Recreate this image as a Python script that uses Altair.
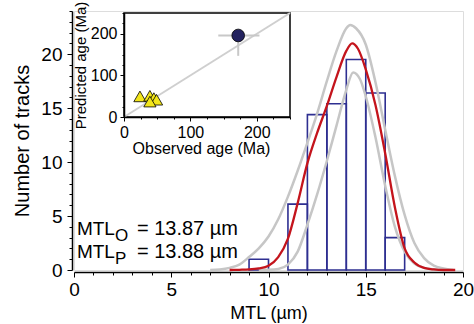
import altair as alt
import pandas as pd

# ---------------- data ----------------
bin_start = [9, 10, 11, 12, 13, 14, 15, 16]
bin_end = [10, 11, 12, 13, 14, 15, 16, 17]
counts = [1.0, 0.0, 6.1, 14.4, 15.4, 19.5, 16.4, 3.0]

red_x = [8.0, 8.5, 9.0, 9.5, 10.0, 10.5, 11.0, 11.5, 12.0, 12.5, 13.0, 13.5, 14.0, 14.3, 14.6,
         15.0, 15.5, 16.0, 16.5, 17.0, 17.5, 18.0, 18.5, 19.0, 19.6]
red_y = [0.0, 0.02, 0.05, 0.15, 0.4, 1.2, 2.9, 6.2, 9.9, 12.7, 15.2, 17.9, 20.3, 21.0, 20.5,
         18.6, 15.3, 10.8, 5.8, 2.0, 0.7, 0.2, 0.05, 0.0, 0.0]

up_x = [7.0, 7.5, 8.0, 8.5, 9.0, 9.5, 10.0, 10.5, 11.0, 11.5, 12.0, 12.5, 13.0, 13.5, 14.0,
        14.2, 14.5, 15.0, 15.5, 16.0, 16.5, 17.0, 17.5, 18.0, 18.5, 19.0, 19.5]
up_y = [0.0, 0.05, 0.2, 0.5, 1.2, 2.0, 3.1, 4.7, 6.8, 9.2, 11.8, 14.5, 17.5, 20.3, 22.4,
        22.7, 22.4, 20.9, 17.4, 13.0, 8.7, 5.1, 2.5, 1.1, 0.4, 0.15, 0.0]

lo_x = [9.5, 10.0, 10.5, 11.0, 11.5, 12.0, 12.5, 13.0, 13.5, 14.0, 14.35, 14.7, 15.0, 15.5,
        16.0, 16.5, 17.0, 17.5, 18.0, 18.5, 19.0]
lo_y = [0.0, 0.02, 0.1, 0.5, 1.7, 4.2, 7.0, 10.1, 13.4, 16.7, 18.3, 17.7, 16.1, 12.3,
        7.8, 4.0, 1.7, 0.6, 0.2, 0.05, 0.0]

mtl_label = ["MTL", "MTL"]
mtl_sub = ["O", "P"]
mtl_value = ["= 13.87 µm", "= 13.88 µm"]
mtl_x = [0.15, 0.15]
mtl_y = [3.24, 1.08]

# inset
obs_age = [172]
pred_age = [196]
obs_lo, obs_hi = [142], [204]
pred_lo, pred_hi = [147], [200]
tri_obs = [24, 39, 45, 49, 39]
tri_pred = [49.5, 51, 45.5, 41.5, 37]
line_obs = [0, 250]
line_pred = [0, 250]

# ---------------- tables ----------------
hist_df = pd.DataFrame({"x0": bin_start, "x1": bin_end, "n": counts})
curves_df = pd.concat([
    pd.DataFrame({"mtl": up_x, "y": up_y, "c": "upper"}),
    pd.DataFrame({"mtl": lo_x, "y": lo_y, "c": "lower"}),
])
red_df = pd.DataFrame({"mtl": red_x, "y": red_y})
text_df = pd.DataFrame({"x": mtl_x, "y": mtl_y, "a": mtl_label, "s": mtl_sub, "v": mtl_value})

FONT = "Liberation Sans"
W, H = 389, 259

def X(field):
    return alt.X(field, type="quantitative",
                 scale=alt.Scale(domain=[0, 20], nice=False, zero=False),
                 axis=alt.Axis(title="MTL (µm)", values=list(range(0, 21)),
                               labelExpr="datum.value % 5 == 0 ? datum.label : ''",
                               tickSize={"condition": {"test": "datum.value % 5 == 0", "value": 5}, "value": 3},
                               labelFontSize=19, titleFontSize=18, labelPadding=3,
                               titlePadding=5, offset=2, grid=False,
                               domainColor="black", tickColor="black", labelColor="black",
                               titleColor="black", titleFontWeight="normal", labelFlush=False,
                               domainWidth=1.5, tickWidth=1))

def Y(field):
    return alt.Y(field, type="quantitative",
                 scale=alt.Scale(domain=[0, 24], nice=False, zero=False),
                 axis=alt.Axis(title="Number of tracks", values=list(range(0, 25)),
                               labelExpr="datum.value % 5 == 0 ? datum.label : ''",
                               tickSize={"condition": {"test": "datum.value % 5 == 0", "value": 5}, "value": 3},
                               labelFontSize=19, titleFontSize=20, labelPadding=5,
                               titlePadding=8, offset=2, grid=False,
                               domainColor="black", tickColor="black", labelColor="black",
                               titleColor="black", titleFontWeight="normal", labelFlush=False,
                               domainWidth=1.5, tickWidth=1))

hist = alt.Chart(hist_df).transform_filter("datum.n > 0").mark_rect(
    fillOpacity=0, stroke="#2e2f91", strokeWidth=1.6
).encode(x=X("x0"), x2="x1", y=Y("n"), y2=alt.datum(0))

gray = alt.Chart(curves_df).mark_line(color="#c6c6c6", strokeWidth=2.5, interpolate="monotone").encode(
    x=X("mtl"), y=Y("y"), detail="c:N")

red = alt.Chart(red_df).mark_line(color="#c4141c", strokeWidth=2.3, interpolate="monotone").encode(
    x=X("mtl"), y=Y("y"))

t1 = alt.Chart(text_df).mark_text(align="left", baseline="alphabetic", fontSize=19, font=FONT,
                                  color="black").encode(x=X("x"), y=Y("y"), text="a:N")
t2 = alt.Chart(text_df).mark_text(align="left", baseline="alphabetic", fontSize=17, font=FONT,
                                  color="black", dx=38, dy=6).encode(x=X("x"), y=Y("y"), text="s:N")
t3 = alt.Chart(text_df).mark_text(align="left", baseline="alphabetic", fontSize=20, font=FONT,
                                  color="black", dx=60).encode(x=X("x"), y=Y("y"), text="v:N")

main = alt.layer(hist, gray, red, t1, t2, t3)

# ---------------- inset ----------------
def IX(field):
    return alt.X(field, type="quantitative",
                 scale=alt.Scale(domain=[0, 250], range=[50, 216], nice=False, zero=False),
                 axis=alt.Axis(title="Observed age (Ma)", orient="bottom", offset=-153,
                               values=list(range(0, 251, 25)),
                               labelExpr="datum.value % 100 == 0 ? datum.label : ''",
                               tickSize={"condition": {"test": "datum.value % 100 == 0", "value": 4}, "value": 2},
                               labelFontSize=16, titleFontSize=16, labelPadding=3, titlePadding=0,
                               titleX=127,
                               grid=False, domainColor="black", tickColor="black",
                               labelColor="black", titleColor="black", titleFontWeight="normal",
                               labelFlush=False, domainWidth=1.5, zindex=1))

def IY(field):
    return alt.Y(field, type="quantitative",
                 scale=alt.Scale(domain=[0, 250], range=[106, 2], nice=False, zero=False),
                 axis=alt.Axis(title="Predicted age (Ma)", orient="left", offset=-50,
                               values=list(range(0, 251, 25)),
                               labelExpr="datum.value % 100 == 0 ? datum.label : ''",
                               tickSize={"condition": {"test": "datum.value % 100 == 0", "value": 4}, "value": 2},
                               labelFontSize=16, titleFontSize=15, labelPadding=3, titlePadding=2,
                               grid=False, domainColor="black", tickColor="black",
                               labelColor="black", titleColor="black", titleFontWeight="normal",
                               labelFlush=False, domainWidth=1.5, zindex=1))

box_df = pd.DataFrame({"x0": [line_obs[0]], "x1": [line_obs[1]], "y0": [line_pred[0]], "y1": [line_pred[1]]})
box = alt.Chart(box_df).mark_rect(fill="white", stroke="black", strokeWidth=1.5).encode(
    x=IX("x0"), x2="x1", y=IY("y0"), y2="y1")

one = alt.Chart(pd.DataFrame({"o": line_obs, "p": line_pred})).mark_line(
    color="#cfcfcf", strokeWidth=2).encode(x=IX("o"), y=IY("p"))

err_df = pd.DataFrame({"o": obs_age, "p": pred_age, "olo": obs_lo, "ohi": obs_hi,
                       "plo": pred_lo, "phi": pred_hi})
errh = alt.Chart(err_df).mark_rule(color="#c8c8c8", strokeWidth=2).encode(
    x=IX("olo"), x2="ohi", y=IY("p"))
errv = alt.Chart(err_df).mark_rule(color="#c8c8c8", strokeWidth=2).encode(
    x=IX("o"), y=IY("plo"), y2="phi")

tri = alt.Chart(pd.DataFrame({"o": tri_obs, "p": tri_pred})).mark_point(
    shape="triangle-up", size=150, filled=True, fill="#f2e51a", stroke="black",
    strokeWidth=0.8, opacity=1).encode(x=IX("o"), y=IY("p"))

circ = alt.Chart(err_df).mark_point(
    shape="circle", size=160, filled=True, fill="#23225f", stroke="black",
    strokeWidth=0.8, opacity=1).encode(x=IX("o"), y=IY("p"))

inset = alt.layer(box, one, errh, errv, tri, circ)

chart = alt.layer(main, inset).resolve_scale(x="independent", y="independent").properties(
    width=W, height=H,
    autosize=alt.AutoSizeParams(type="none"),
    padding={"left": 74, "top": 11, "right": 11, "bottom": 54},
).configure_view(stroke=None).configure(font=FONT, background="white")

chart.save("out.html", embed_options={"renderer": "svg", "actions": False})
